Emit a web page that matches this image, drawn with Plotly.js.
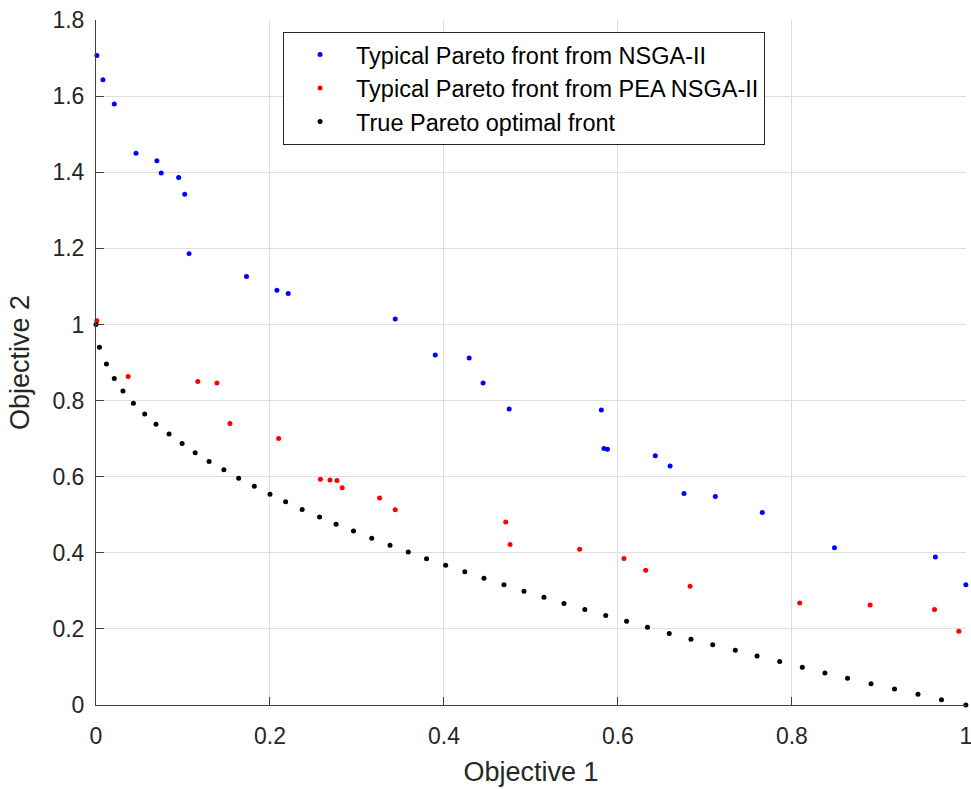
<!DOCTYPE html>
<html>
<head>
<meta charset="utf-8">
<script src="https://cdn.plot.ly/plotly-3.0.1.min.js"></script>
<style>html,body{margin:0;padding:0;background:#fff;}</style>
</head>
<body>
<div id="chart" style="width:971px;height:789px;"></div>
<script>
const nsgaX = [0.001, 0.008, 0.021, 0.046, 0.070, 0.075, 0.095, 0.102, 0.107, 0.173, 0.208, 0.221, 0.344, 0.390, 0.429, 0.445, 0.475, 0.581, 0.584, 0.588, 0.643, 0.660, 0.676, 0.712, 0.766, 0.849, 0.965, 1.0];
const nsgaY = [1.707, 1.643, 1.579, 1.450, 1.430, 1.398, 1.386, 1.342, 1.186, 1.126, 1.090, 1.081, 1.014, 0.920, 0.912, 0.846, 0.778, 0.775, 0.674, 0.672, 0.655, 0.628, 0.556, 0.548, 0.506, 0.413, 0.389, 0.316];

const peaX = [0.001, 0.037, 0.117, 0.139, 0.154, 0.210, 0.258, 0.269, 0.277, 0.283, 0.326, 0.344, 0.471, 0.476, 0.556, 0.607, 0.632, 0.683, 0.809, 0.890, 0.964, 0.992];
const peaY = [1.010, 0.863, 0.850, 0.846, 0.740, 0.700, 0.593, 0.591, 0.590, 0.571, 0.544, 0.513, 0.481, 0.422, 0.409, 0.385, 0.354, 0.312, 0.268, 0.263, 0.251, 0.194];

const trueX = [0, 0.004, 0.012, 0.021, 0.031, 0.043, 0.056, 0.069, 0.084, 0.099, 0.114, 0.130, 0.147, 0.164, 0.182, 0.200, 0.218, 0.237, 0.257, 0.276, 0.296, 0.317, 0.338, 0.359, 0.380, 0.402, 0.424, 0.446, 0.469, 0.492, 0.515, 0.538, 0.562, 0.586, 0.610, 0.634, 0.659, 0.684, 0.709, 0.735, 0.760, 0.786, 0.812, 0.838, 0.864, 0.891, 0.918, 0.945, 0.972, 1.0];
const trueY = [1.0, 0.940, 0.896, 0.858, 0.825, 0.793, 0.765, 0.738, 0.712, 0.687, 0.663, 0.640, 0.618, 0.596, 0.575, 0.554, 0.534, 0.514, 0.494, 0.475, 0.457, 0.438, 0.420, 0.402, 0.384, 0.367, 0.350, 0.333, 0.316, 0.299, 0.283, 0.267, 0.251, 0.235, 0.220, 0.204, 0.188, 0.173, 0.158, 0.144, 0.129, 0.114, 0.099, 0.084, 0.070, 0.056, 0.042, 0.028, 0.014, 0.0];

const seriesNames = ["Typical Pareto front from NSGA-II", "Typical Pareto front from PEA NSGA-II", "True Pareto optimal front"];
const xTicks = [0, 0.2, 0.4, 0.6, 0.8, 1];
const xTickText = ["0", "0.2", "0.4", "0.6", "0.8", "1"];
const yTicks = [0, 0.2, 0.4, 0.6, 0.8, 1, 1.2, 1.4, 1.6, 1.8];
const yTickText = ["0", "0.2", "0.4", "0.6", "0.8", "1", "1.2", "1.4", "1.6", "1.8"];

const FONT = '"Liberation Sans", Arial, Helvetica, sans-serif';
const mk = (x, y, name, color) => ({
  type: 'scatter', mode: 'markers', x: x, y: y, name: name,
  marker: {color: color, size: 5}, cliponaxis: false
});

const data = [
  mk(nsgaX, nsgaY, seriesNames[0], '#0000ff'),
  mk(peaX, peaY, seriesNames[1], '#ff0000'),
  mk(trueX, trueY, seriesNames[2], '#000000')
];

const axisCommon = {
  showgrid: true, gridcolor: '#dedede', gridwidth: 1,
  zeroline: false, showline: true, linecolor: '#404040', linewidth: 1,
  ticks: 'inside', ticklen: 8, tickcolor: '#404040', tickwidth: 1,
  tickfont: {family: FONT, size: 23, color: '#262626'},
  ticklabeloverflow: 'allow',
  mirror: false
};

const layout = {
  width: 971, height: 789,
  margin: {l: 96, r: 5, t: 20, b: 84},
  paper_bgcolor: '#ffffff', plot_bgcolor: '#ffffff',
  font: {family: FONT, color: '#262626'},
  showlegend: true,
  xaxis: Object.assign({}, axisCommon, {
    range: [0, 1.0002], tickvals: xTicks, ticktext: xTickText,
    ticklabelstandoff: 10,
    title: {text: 'Objective 1', font: {family: FONT, size: 27, color: '#262626'}, standoff: 14}
  }),
  yaxis: Object.assign({}, axisCommon, {
    range: [0, 1.8], tickvals: yTicks, ticktext: yTickText,
    ticklabelstandoff: 6,
    title: {text: 'Objective 2', font: {family: FONT, size: 27, color: '#262626'}, standoff: 14}
  }),
  legend: {
    x: 0.215, y: 0.983, xanchor: 'left', yanchor: 'top',
    bgcolor: '#ffffff', bordercolor: '#262626', borderwidth: 1,
    font: {family: FONT, size: 23.5, color: '#000000'},
    itemwidth: 62, tracegroupgap: 0
  }
};

Plotly.newPlot('chart', data, layout, {displayModeBar: false, staticPlot: true});
</script>
</body>
</html>
